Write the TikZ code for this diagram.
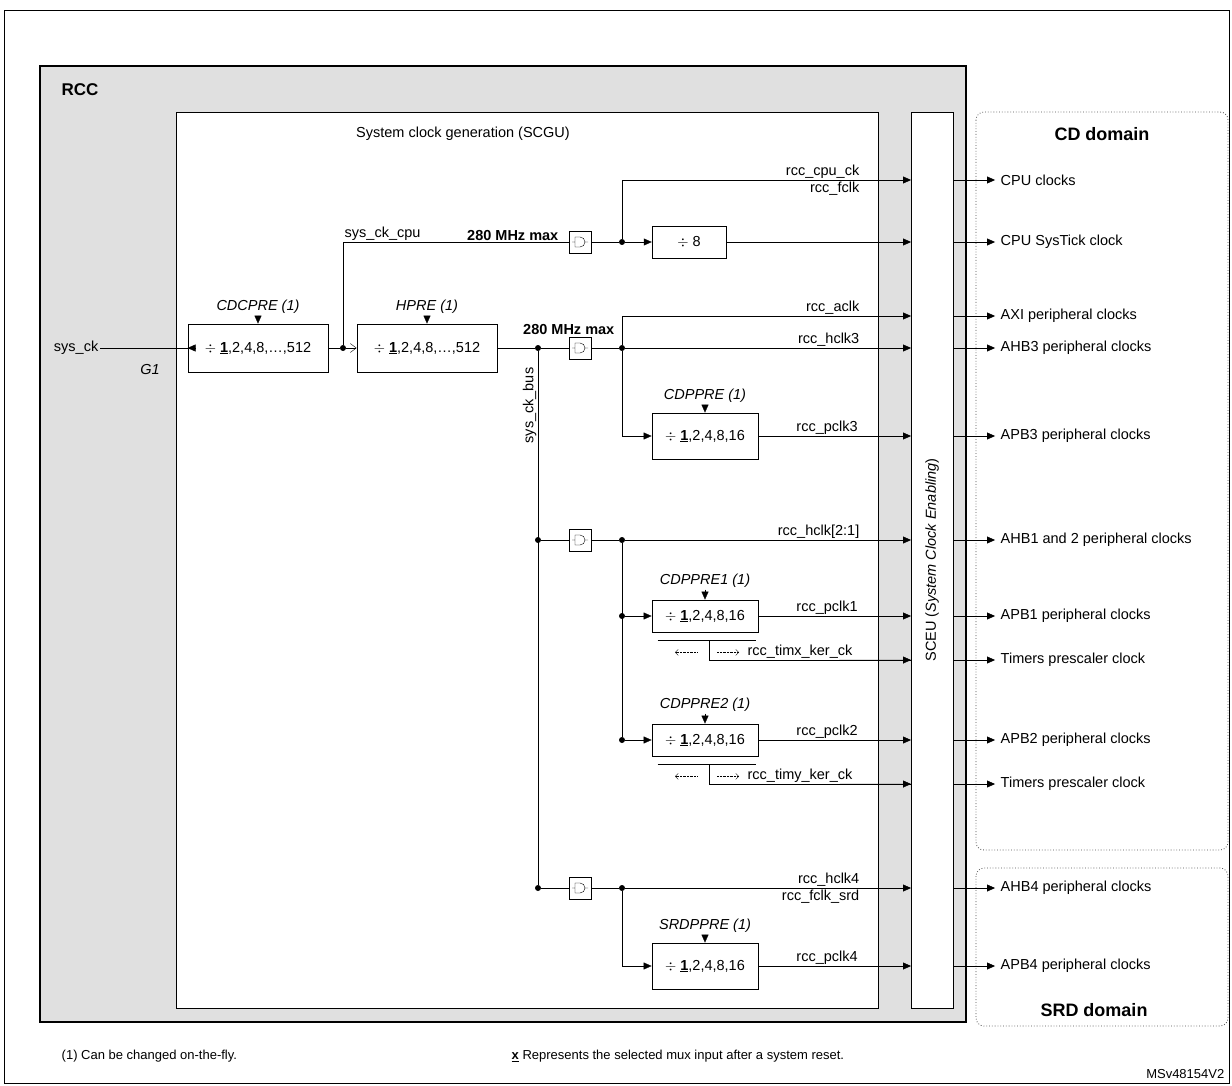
\documentclass[tikz,border=0pt]{standalone}
\usepackage{fontspec}
\setmainfont{Liberation Sans}
\usetikzlibrary{arrows.meta,positioning,calc}
\tikzset{>={Triangle[length=8pt,width=7pt]}}
\tikzstyle{dot} = [circle,fill=black,inner sep=0pt,minimum size=6pt]
\tikzstyle{divbox} = [draw,thick,fill=white,minimum width=106pt,minimum height=32pt,inner sep=0pt]
\tikzstyle{gatebox} = [draw,fill=white,minimum size=22pt,inner sep=0pt]
\tikzstyle{lbl} = [inner sep=1.5pt,font=\fontsize{14.5}{16}\selectfont]
\tikzstyle{domainbox} = [draw=black!70,dotted,thick,rounded corners=8pt]
\newcommand{\andgate}[2]{%
  \node [gatebox] (#1) at (#2) {};
  \draw ($(#1.center)+(-8,0)$) -- ++(3,0) ($(#1.center)+(-5,-5)$) -- ++(5,0)
        arc [start angle=90,end angle=-90,radius=5pt] -- ++(-5,0) -- cycle
        ($(#1.center)+(5,0)$) -- ++(3,0);}
\newcommand{\divtxt}{$\div$ \underline{\textbf{1}},2,4,8,16}
\begin{document}
\begin{tikzpicture}[x=1pt,y=-1pt,font=\fontsize{14.5}{16}\selectfont]
  \useasboundingbox (0,0) rectangle (1232,1086);
  \draw [thick] (4,10) rectangle (1229,1083);
  % RCC block
  \draw [line width=1.6pt,fill=black!12] (40,66) rectangle (966,1022);
  \node [font=\fontsize{17}{19}\selectfont\bfseries] (rcc) at (80,90) {RCC};
  \draw [fill=white] (176,112) rectangle (878,1008);
  \node (scgu) at (463,134) {System clock generation (SCGU)};
  \draw [fill=white] (911,112) rectangle (953,1008);
  \node [rotate=90] (sceu) at (932,560) {SCEU (\textit{System Clock Enabling})};
  % domains
  \draw [domainbox] (976,112) rectangle (1228,850);
  \draw [domainbox] (976,868) rectangle (1228,1026);
  \node [font=\fontsize{18}{20}\selectfont\bfseries] (cd) at (1102,134) {CD domain};
  \node [font=\fontsize{18}{20}\selectfont\bfseries] (srd) at (1094,1010) {SRD domain};

  % input and core prescaler
  \node [lbl,anchor=east] (sysck) at (100,348) {sys\_ck};
  \andgate{g1}{204,348}
  \node [lbl] (g1lbl) at (150,370) {\textit{G1}};
  \node [divbox,minimum width=140pt,minimum height=48pt] (cdcpre) at (258,348) {$\div$ \underline{\textbf{1}},2,4,8,\dots,512};
  \node [divbox,minimum width=140pt,minimum height=48pt] (hpre) at (427,348) {$\div$ \underline{\textbf{1}},2,4,8,\dots,512};
  \node [lbl,above=8pt of cdcpre] (cdcprel) {\textit{CDCPRE (1)}};
  \node [lbl,above=8pt of hpre] (hprel) {\textit{HPRE (1)}};
  \draw [->] (cdcprel) -- (cdcpre);
  \draw [->] (hprel) -- (hpre);
  \draw (sysck) -- (g1);
  \draw [->] (g1) -- (cdcpre);
  \node [dot] (j0) at (343,348) {};
  \draw (cdcpre) -- (j0);
  \draw [-{Straight Barb[length=6pt,width=9pt]}] (j0) -- (hpre);

  % cpu path
  \andgate{gcpu}{580,242}
  \draw (j0) |- (gcpu);
  \node [lbl,anchor=south west] (sysckcpu) at (343,242) {sys\_ck\_cpu};
  \node [lbl,anchor=south east,font=\fontsize{14.5}{16}\selectfont\bfseries] (mhz1) at (560,242) {280 MHz max};
  \node [dot] (j1) at (622,242) {};
  \draw (gcpu) -- (j1);
  \node [draw,fill=white,minimum width=74pt,minimum height=32pt] (div8) at (689,242) {$\div$ 8};
  \draw [->] (j1) -- (div8);
  \coordinate (e1) at (911,180);
  \coordinate (e2) at (911,242);
  \draw [->] (j1) |- (e1);
  \node [lbl,anchor=south east] (cpuck) at (861,180) {rcc\_cpu\_ck};
  \node [lbl,anchor=north east] (fclk) at (861,180) {rcc\_fclk};
  \draw [->] (div8) -- (e2);

  % bus path
  \node [dot] (jb) at (538,348) {};
  \draw (hpre) -- (jb);
  \node [lbl,rotate=90,anchor=south east] (sysckbus) at (538,366) {sys\_ck\_bus};
  \node [lbl,anchor=south east,font=\fontsize{14.5}{16}\selectfont\bfseries] (mhz2) at (616,336) {280 MHz max};
  \andgate{ga}{580,348}
  \draw (jb) -- (ga);
  \node [dot] (ja) at (622,348) {};
  \draw (ga) -- (ja);
  \coordinate (e3) at (911,316);
  \coordinate (e4) at (911,348);
  \coordinate (e5) at (911,436);
  \draw [->] (ja) |- (e3);
  \node [lbl,anchor=south east] (aclk) at (861,316) {rcc\_aclk};
  \draw [->] (ja) -- (e4);
  \node [lbl,anchor=south east] (hclk3) at (861,348) {rcc\_hclk3};
  \node [divbox,minimum height=46pt] (cdppre) at (705,436) {\divtxt};
  \node [lbl,above=8pt of cdppre] (cdpprel) {\textit{CDPPRE (1)}};
  \draw [->] (cdpprel) -- (cdppre);
  \draw [->] (ja) |- (cdppre);
  \draw [->] (cdppre) -- (e5) node [lbl,pos=0.45,above] {rcc\_pclk3};

  % APB1/APB2
  \node [dot] (jb2) at (538,540) {};
  \andgate{gb}{580,540}
  \draw (jb2) -- (gb);
  \node [dot] (jc) at (622,540) {};
  \draw (gb) -- (jc);
  \coordinate (e6) at (911,540);
  \draw [->] (jc) -- (e6);
  \node [lbl,anchor=south east] (hclk12) at (861,540) {rcc\_hclk[2:1]};
  \foreach \n/\y/\tim/\t in {1/616/660/x,2/740/784/y}{
    \node [divbox] (apb\n) at (705,\y) {\divtxt};
    \node [lbl,above=10pt of apb\n] (apb\n l) {\textit{CDPPRE\n\ (1)}};
    \draw [->] (apb\n l) -- (apb\n);
    \node [dot] (jp\n) at (622,\y) {};
    \draw [->] (jp\n) -- (apb\n);
    \draw [->] (apb\n) -- (911,\y) node [lbl,pos=0.45,above] {rcc\_pclk\n};
    \draw ($(apb\n.south west)+(6,8)$) -- ($(apb\n.south east)+(-2,8)$);
    \draw ($(apb\n.south)+(4,8)$) |- (911,\tim);
    \draw [densely dotted,-{Straight Barb[length=3pt,width=6pt]}] ($(apb\n.south)+(-8,20)$) -- ++(-22,0);
    \draw [densely dotted,-{Straight Barb[length=3pt,width=6pt]}] ($(apb\n.south)+(12,20)$) -- ++(22,0);
    \draw [->] ($(apb\n.south)+(60,28)$) -- (911,\tim);
    \node [lbl,anchor=south] (timlbl\n) at (800,\tim) {rcc\_tim\t\_ker\_ck};
  }
  \draw (jc) -- (jp2);

  % SRD path
  \node [dot] (jb3) at (538,888) {};
  \draw (jb) -- (jb3);
  \andgate{gd}{580,888}
  \draw (jb3) -- (gd);
  \node [dot] (jd) at (622,888) {};
  \draw (gd) -- (jd);
  \draw [->] (jd) -- (911,888);
  \node [lbl,anchor=south east] (hclk4) at (861,888) {rcc\_hclk4};
  \node [lbl,anchor=north east] (fclksrd) at (861,888) {rcc\_fclk\_srd};
  \node [divbox,minimum height=46pt] (srdppre) at (705,966) {\divtxt};
  \node [lbl,above=8pt of srdppre] (srdl) {\textit{SRDPPRE (1)}};
  \draw [->] (srdl) -- (srdppre);
  \draw [->] (jd) |- (srdppre);
  \draw [->] (srdppre) -- (911,966) node [lbl,pos=0.45,above] {rcc\_pclk4};

  % outputs
  \foreach \y/\t in {180/CPU clocks,242/CPU SysTick clock,316/AXI peripheral clocks,348/AHB3 peripheral clocks,
      436/APB3 peripheral clocks,540/AHB1 and 2 peripheral clocks,616/APB1 peripheral clocks,660/Timers prescaler clock,
      740/APB2 peripheral clocks,784/Timers prescaler clock,888/AHB4 peripheral clocks,966/APB4 peripheral clocks}{
    \draw [->] (953,\y) -- (995,\y) node [lbl,right=4pt] {\t};
  }

  % footnotes
  \node [lbl,anchor=west,font=\fontsize{13}{15}\selectfont] (fn1) at (60,1056) {(1) Can be changed on-the-fly.};
  \node [lbl,anchor=west,font=\fontsize{13}{15}\selectfont] (fn2) at (510,1056) {\underline{\textbf{x}} Represents the selected mux input after a system reset.};
  \node [lbl,anchor=east,font=\fontsize{13}{15}\selectfont] (ms) at (1226,1074) {MSv48154V2};
\end{tikzpicture}
\end{document}
